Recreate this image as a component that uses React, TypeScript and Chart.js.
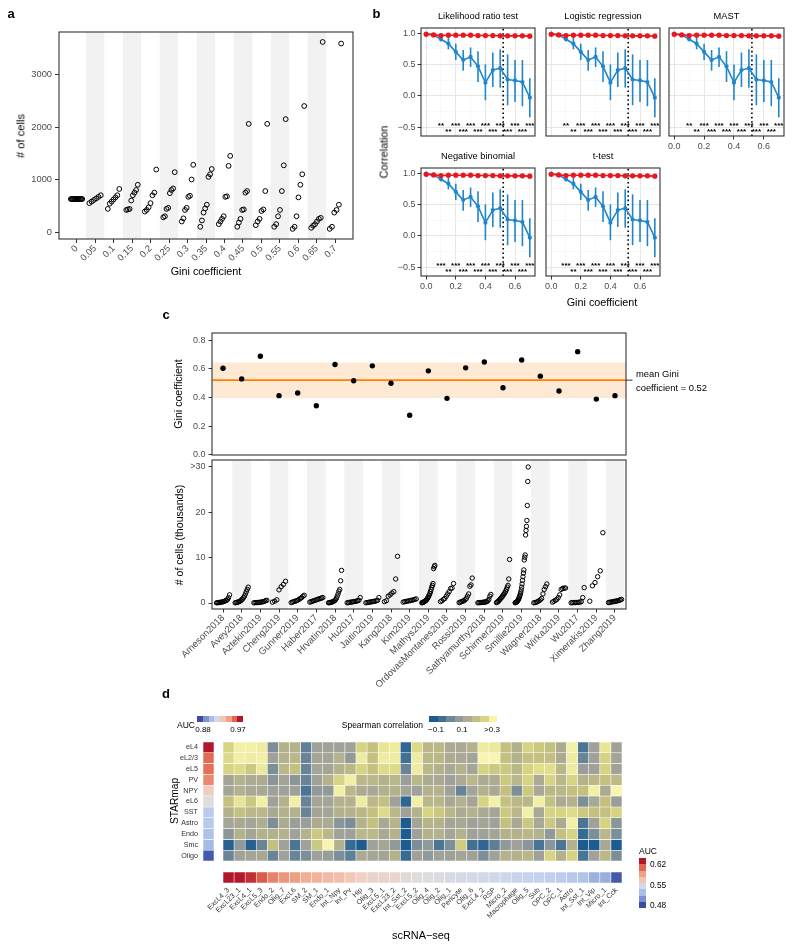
import React, { useEffect, useRef } from "react";
import { Chart, registerables } from "chart.js";

Chart.register(...registerables);

const PAGE_W = 800;
const PAGE_H = 947;
const FONT = "'Liberation Sans', Arial, Helvetica, sans-serif";
const TICK_TXT = "#4d4d4d";
const AXIS_LINE = "#333333";
const BAND = "#f2f2f2";
Chart.defaults.font.family = FONT;

// ---------------- Panel a data ----------------
const giniLevels = ["0", "0.05", "0.1", "0.15", "0.2", "0.25", "0.3", "0.35", "0.4", "0.45", "0.5", "0.55", "0.6", "0.65", "0.7"];
const cellsByGini: number[][] = [
  [628, 628, 628, 628, 628, 628, 628, 628, 628, 628, 628, 628, 628, 628],
  [550, 580, 610, 640, 670, 700],
  [440, 540, 580, 620, 660, 700, 820],
  [420, 430, 440, 600, 700, 750, 800, 900],
  [390, 420, 470, 550, 700, 750, 1190],
  [280, 300, 440, 460, 740, 800, 830, 1140],
  [200, 260, 420, 460, 670, 690, 1000, 1280],
  [100, 220, 370, 450, 520, 1050, 1100, 1200],
  [150, 200, 250, 300, 670, 680, 1260, 1450],
  [100, 180, 250, 420, 430, 750, 780, 2060],
  [130, 200, 250, 400, 430, 780, 2060],
  [100, 150, 300, 420, 780, 1270, 2150],
  [60, 100, 300, 660, 900, 1100, 2400],
  [80, 120, 150, 200, 250, 270, 3620],
  [60, 100, 370, 420, 520, 3590],
];

// ---------------- Panel b data ----------------
const corrGini = [0, 0.05, 0.1, 0.15, 0.2, 0.25, 0.3, 0.35, 0.4, 0.45, 0.5, 0.55, 0.6, 0.65, 0.7];
const redCorr = [0.98, 0.97, 0.96, 0.965, 0.965, 0.965, 0.965, 0.96, 0.96, 0.96, 0.955, 0.955, 0.955, 0.955, 0.95];
const blueCorr = [0.99, 0.97, 0.9, 0.83, 0.7, 0.57, 0.62, 0.47, 0.21, 0.41, 0.44, 0.26, 0.245, 0.22, -0.03];
const blueLow = [0.99, 0.97, 0.87, 0.74, 0.57, 0.4, 0.46, 0.22, -0.07, 0.14, 0.13, -0.15, -0.1, -0.165, -0.34];
const blueHigh = [0.99, 0.97, 0.93, 0.93, 0.83, 0.73, 0.77, 0.71, 0.5, 0.69, 0.74, 0.66, 0.57, 0.57, 0.28];
const meanGiniLine = 0.52;
const methods = ["Likelihood ratio test", "Logistic regression", "MAST", "Negative binomial", "t-test"];
const starX1 = [0.1, 0.2, 0.3, 0.4, 0.5, 0.6, 0.7];
const starX2 = [0.15, 0.25, 0.35, 0.45, 0.55, 0.65];
const starsRow1: string[][] = [
  ["**", "***", "***", "***", "***", "***", "***"],
  ["**", "***", "***", "***", "***", "***", "***"],
  ["**", "***", "***", "***", "***", "***", "***"],
  ["***", "***", "***", "***", "***", "***", "***"],
  ["***", "***", "***", "***", "***", "***", "***"],
];
const starsRow2: string[][] = [
  ["**", "***", "***", "***", "***", "***"],
  ["**", "***", "***", "***", "***", "***"],
  ["**", "***", "***", "***", "***", "***"],
  ["**", "***", "***", "***", "***", "***"],
  ["**", "***", "***", "***", "***", "***"],
];

// ---------------- Panel c data ----------------
const studies = ["Arneson2018", "Avey2018", "Aztekin2019", "Cheng2019", "Gunner2019", "Haber2017", "Hrvatin2018", "Hu2017", "Jaitin2019", "Kang2018", "Kim2019", "Mathys2019", "OrdovasMontanes2018", "Rossi2019", "Sathyamurthy2018", "Schirmer2019", "Smillie2019", "Wagner2018", "Wirka2019", "Wu2017", "Ximerakis2019", "Zhang2019"];
const studyGini = [0.603, 0.529, 0.687, 0.412, 0.43, 0.342, 0.629, 0.516, 0.62, 0.499, 0.275, 0.585, 0.393, 0.606, 0.647, 0.467, 0.661, 0.548, 0.444, 0.719, 0.388, 0.412];
const giniMean = 0.52;
const giniBandLow = 0.395;
const giniBandHigh = 0.643;
const cellCountsK: number[][] = [
  [0.05, 0.08, 0.1, 0.12, 0.15, 0.2, 0.25, 0.3, 0.4, 0.5, 0.6, 0.8, 1.2, 1.8],
  [0.05, 0.1, 0.15, 0.2, 0.3, 0.4, 0.5, 0.7, 0.9, 1.2, 1.5, 2.0, 2.5, 3.0, 3.5],
  [0.05, 0.08, 0.1, 0.1, 0.12, 0.15, 0.2, 0.25, 0.3, 0.4, 0.5, 0.6],
  [0.2, 0.4, 0.7, 2.9, 3.6, 4.1, 4.8],
  [0.1, 0.2, 0.3, 0.4, 0.5, 0.6, 0.8, 1.0, 1.2, 1.5, 1.7],
  [0.2, 0.3, 0.4, 0.5, 0.6, 0.7, 0.8, 0.9, 1.0, 1.1, 1.2],
  [0.05, 0.1, 0.1, 0.15, 0.2, 0.3, 0.4, 0.5, 0.7, 1.0, 1.5, 2.0, 2.6, 3.0, 4.9, 7.2],
  [0.05, 0.1, 0.15, 0.2, 0.25, 0.3, 0.35, 0.4, 0.5, 0.6, 1.2],
  [0.05, 0.1, 0.15, 0.2, 0.25, 0.3, 0.35, 0.4, 0.5, 0.6, 1.2],
  [0.3, 0.5, 1.5, 1.8, 2.2, 2.5, 5.3, 10.3],
  [0.2, 0.3, 0.35, 0.4, 0.5, 0.55, 0.6, 0.7, 0.8, 0.9],
  [0.05, 0.1, 0.15, 0.2, 0.3, 0.4, 0.5, 0.6, 0.8, 1.0, 1.2, 1.5, 1.8, 2.1, 2.5, 3.0, 3.5, 3.9, 4.3, 7.6, 8.0, 8.3],
  [0.3, 0.5, 0.8, 1.0, 1.5, 2.0, 2.5, 3.2, 3.3, 4.3],
  [0.1, 0.2, 0.3, 0.4, 0.5, 0.7, 1.0, 1.5, 2.0, 3.7, 4.0, 5.5],
  [0.05, 0.08, 0.1, 0.1, 0.12, 0.15, 0.2, 0.2, 0.25, 0.3, 0.5, 0.8, 1.5, 1.9],
  [0.1, 0.2, 0.3, 0.5, 0.7, 0.9, 1.1, 1.3, 1.5, 1.8, 2.0, 2.3, 2.6, 3.0, 3.5, 3.9, 5.3, 9.6],
  [0.05, 0.1, 0.15, 0.2, 0.3, 0.4, 0.5, 0.7, 0.9, 1.1, 1.4, 1.7, 2.0, 2.4, 2.9, 3.5, 4.2, 5.0, 5.8, 6.6, 7.3, 9.5, 10.1, 10.6, 15.0, 16.0, 16.9, 18.2, 21.5, 26.8, 30],
  [0.05, 0.1, 0.2, 0.3, 0.5, 0.7, 1.0, 2.0, 3.0, 3.6, 4.2],
  [0.2, 0.4, 0.6, 0.8, 1.2, 1.8, 3.0, 3.2, 3.3, 3.3],
  [0.05, 0.08, 0.1, 0.1, 0.12, 0.15, 0.2, 0.3, 1.2, 3.4],
  [0.4, 3.8, 4.5, 5.8, 7.1, 15.5],
  [0.1, 0.15, 0.2, 0.25, 0.3, 0.35, 0.4, 0.45, 0.5, 0.6, 0.7, 0.8],
];

// ---------------- Panel d data ----------------
const starmapTypes = ["eL4", "eL2/3", "eL5", "PV", "NPY", "eL6", "SST", "Astro", "Endo", "Smc", "Oligo"];
const starmapAUC = [0.97, 0.958, 0.957, 0.953, 0.937, 0.925, 0.909, 0.908, 0.905, 0.902, 0.882];
const scTypes = ["ExcL4_3", "ExcL23_1", "ExcL4_1", "ExcL5_3", "Endo_2", "Olig_7", "ExcL6", "SM_2", "SM_1", "Endo_1", "Int_Npy", "Int_Pv", "Hip", "Olig_3", "ExcL5_1", "ExcL23_2", "Int_Sst_2", "ExcL5_2", "Olig_4", "Olig_2", "Olig_1", "Pericyte", "Olig_6", "ExcL4_2", "RSP", "Micro_2", "Macrophage", "Olig_5", "Sub", "OPC_2", "OPC_1", "Astro", "Int_Sst_1", "Int_Vip", "Micro_1", "Int_Cck"];
const scAUC = [0.62, 0.62, 0.615, 0.605, 0.595, 0.59, 0.588, 0.583, 0.58, 0.577, 0.575, 0.571, 0.567, 0.563, 0.562, 0.561, 0.556, 0.551, 0.55, 0.547, 0.543, 0.542, 0.541, 0.54, 0.539, 0.535, 0.532, 0.531, 0.53, 0.529, 0.526, 0.523, 0.519, 0.51, 0.509, 0.483];
const spearman: number[][] = [
  [0.2, 0.28, 0.28, 0.27, 0.0, 0.1, 0.1, -0.03, 0.05, 0.05, 0.05, 0.05, 0.2, 0.15, 0.25, 0.27, -0.08, 0.22, 0.12, 0.12, 0.08, 0.07, 0.1, 0.27, 0.26, 0.15, 0.1, 0.2, 0.17, 0.15, 0.08, 0.28, -0.05, 0.05, 0.25, 0.05],
  [0.22, 0.28, 0.27, 0.28, 0.05, 0.1, 0.12, -0.02, 0.06, 0.06, 0.1, 0.03, 0.27, 0.15, 0.27, 0.27, -0.06, 0.27, 0.12, 0.12, 0.08, 0.07, 0.06, 0.3, 0.3, 0.15, 0.1, 0.15, 0.15, 0.15, 0.08, 0.27, -0.02, 0.05, 0.2, 0.06],
  [0.2, 0.22, 0.17, 0.26, 0.0, 0.12, 0.15, -0.02, 0.06, 0.06, 0.1, 0.12, 0.2, 0.15, 0.22, 0.22, -0.02, 0.27, 0.12, 0.1, 0.07, 0.1, 0.06, 0.2, 0.17, 0.17, 0.12, 0.2, 0.23, 0.23, 0.12, 0.27, 0.04, 0.05, 0.2, 0.05],
  [0.06, 0.1, 0.08, 0.08, 0.02, 0.06, 0.02, -0.02, 0.05, 0.1, 0.2, 0.28, 0.12, 0.12, 0.1, 0.12, 0.04, 0.12, 0.08, 0.07, 0.05, 0.08, 0.12, 0.08, 0.08, 0.17, 0.12, 0.2, 0.08, 0.2, 0.12, 0.2, 0.1, 0.12, 0.15, 0.13],
  [0.06, 0.1, 0.07, 0.07, 0.05, 0.05, 0.05, -0.05, 0.03, 0.03, 0.28, 0.12, 0.08, 0.07, 0.1, 0.1, 0.06, 0.05, 0.1, 0.1, 0.05, -0.02, 0.06, 0.1, 0.07, 0.15, 0.0, 0.17, 0.07, 0.12, 0.12, 0.15, 0.15, 0.28, 0.08, 0.3],
  [0.15, 0.25, 0.17, 0.28, 0.05, 0.1, 0.28, -0.02, 0.06, 0.06, 0.1, 0.1, 0.27, 0.12, 0.15, 0.05, -0.08, 0.28, 0.12, 0.12, 0.07, 0.1, 0.06, 0.2, 0.28, 0.15, 0.12, 0.12, 0.28, 0.15, 0.08, 0.1, 0.0, 0.07, 0.15, 0.04],
  [0.1, 0.15, 0.12, 0.12, 0.07, 0.1, 0.1, -0.02, 0.06, 0.06, 0.1, 0.1, 0.12, 0.15, 0.22, 0.12, 0.05, 0.1, 0.2, 0.17, 0.12, 0.08, 0.1, 0.07, 0.06, 0.17, 0.12, 0.28, 0.07, 0.2, 0.2, 0.22, 0.17, 0.15, 0.15, 0.2],
  [0.06, 0.07, 0.06, 0.09, 0.0, 0.08, 0.04, 0.04, 0.08, 0.08, 0.02, 0.0, 0.1, 0.15, 0.07, 0.11, -0.1, 0.06, 0.11, 0.1, 0.06, 0.07, 0.05, 0.06, 0.05, 0.15, 0.07, 0.17, 0.07, 0.17, 0.08, 0.28, -0.05, 0.05, 0.2, 0.02],
  [0.02, 0.1, 0.06, 0.1, 0.1, 0.1, 0.05, 0.1, 0.17, 0.12, 0.05, 0.05, 0.12, 0.12, 0.07, 0.1, -0.1, 0.05, 0.1, 0.1, 0.06, 0.1, 0.05, 0.05, 0.06, 0.1, 0.1, 0.12, 0.1, 0.03, 0.15, 0.2, -0.07, 0.0, 0.12, 0.0],
  [-0.09, 0.03, -0.09, -0.02, 0.15, 0.05, -0.05, 0.05, 0.17, 0.3, 0.1, -0.07, -0.1, 0.05, 0.06, 0.03, -0.1, 0.0, 0.03, -0.05, 0.0, 0.18, -0.06, -0.08, -0.03, 0.03, 0.05, 0.02, -0.05, 0.02, -0.05, 0.1, -0.1, -0.1, 0.07, -0.1],
  [-0.02, 0.05, 0.06, 0.07, -0.02, 0.05, -0.02, 0.0, 0.05, 0.04, 0.0, -0.03, 0.08, 0.06, 0.06, 0.1, -0.07, 0.05, 0.03, 0.05, 0.05, 0.06, 0.05, 0.0, 0.05, 0.1, 0.1, 0.12, 0.05, 0.2, 0.1, 0.2, -0.05, 0.05, 0.12, 0.0],
];

// ---------------- colour helpers ----------------
function hex(h: string) {
  return [parseInt(h.slice(1, 3), 16), parseInt(h.slice(3, 5), 16), parseInt(h.slice(5, 7), 16)];
}
function ramp(stops: string[], t: number) {
  const c = Math.max(0, Math.min(1, t)) * (stops.length - 1);
  const i = Math.min(stops.length - 2, Math.floor(c));
  const f = c - i;
  const a = hex(stops[i]);
  const b = hex(stops[i + 1]);
  return `rgb(${a.map((v, k) => Math.round(v + (b[k] - v) * f)).join(",")})`;
}
const SPEAR_STOPS = ["#1d5c91", "#4a7594", "#7c8e98", "#a0a29a", "#b4b18d", "#c4c080", "#d6d382", "#e8e696", "#f8f5b0"];
const spearColor = (v: number) => ramp(SPEAR_STOPS, (v + 0.1) / 0.4);
const DIV_STOPS = ["#3b4ca4", "#7c93d3", "#a8bee7", "#c9d5ee", "#dddddd", "#efd0c3", "#f2a88d", "#e26651", "#b2182b"];
const divColor = (v: number, lo: number, hi: number) => ramp(DIV_STOPS, (v - lo) / (hi - lo));

const SPEAR_LEGEND = ["#1d5c91", "#3d6f95", "#6d8797", "#949a99", "#aeac93", "#c2be85", "#d8d582", "#f6f3ad"];
const AUC_LEGEND = ["#3b4ca4", "#7c93d3", "#a8bee7", "#cfdaf0", "#f2c5b3", "#f0a085", "#e26651", "#b2182b"];

// ---------------- layout helpers ----------------
type Box = { l: number; t: number; r: number; b: number };
const fitW = (w: number) => (s: any) => {
  s.width = w;
};
const fitH = (h: number) => (s: any) => {
  s.height = h;
};
// The chart area lands exactly on `box`; the y axis takes yW px left of it, the x axis xH px below it.
const baseOptions = (box: Box, yW = 0, xH = 0) => ({
  animation: false,
  responsive: false,
  events: [],
  layout: { padding: { left: box.l - yW, top: box.t, right: PAGE_W - box.r, bottom: PAGE_H - box.b - xH } },
  plugins: { legend: { display: false }, tooltip: { enabled: false }, title: { display: false } },
});

const framePlugin = (color: string, lw: number) => ({
  id: "frame",
  afterDraw(chart: any) {
    const { ctx, chartArea: a } = chart;
    ctx.save();
    ctx.strokeStyle = color;
    ctx.lineWidth = lw;
    ctx.strokeRect(a.left, a.top, a.right - a.left, a.bottom - a.top);
    ctx.restore();
  },
});

const bandsPlugin = (n: number) => ({
  id: "bands",
  beforeDatasetsDraw(chart: any) {
    const { ctx, chartArea: a, scales } = chart;
    ctx.save();
    ctx.fillStyle = BAND;
    for (let i = 1; i < n; i += 2) {
      const x0 = scales.x.getPixelForValue(i - 0.5);
      const x1 = scales.x.getPixelForValue(i + 0.5);
      ctx.fillRect(x0, a.top, x1 - x0, a.bottom - a.top);
    }
    ctx.restore();
  },
});

function spreadPoints(groups: number[][], width: number) {
  const pts: { x: number; y: number }[] = [];
  groups.forEach((vals, i) => {
    const sorted = [...vals].sort((p, q) => p - q);
    const n = sorted.length;
    sorted.forEach((v, k) => pts.push({ x: i + (n > 1 ? (k / (n - 1) - 0.5) * width : 0), y: v }));
  });
  return pts;
}

const tickFont = (size: number) => ({ family: FONT, size });

// ---------------- chart configs ----------------
const boxA: Box = { l: 59, t: 32, r: 353, b: 239 };
function configA(): any {
  return {
    type: "scatter",
    data: {
      datasets: [
        {
          data: spreadPoints(cellsByGini, 0.62),
          pointRadius: 2.4,
          pointBorderWidth: 1,
          pointBorderColor: "#000",
          pointBackgroundColor: "rgba(0,0,0,0)",
        },
      ],
    },
    options: {
      ...baseOptions(boxA, 55, 40),
      scales: {
        x: {
          type: "linear",
          min: -0.95,
          max: 14.95,
          afterFit: fitH(40),
          afterBuildTicks: (s: any) => {
            s.ticks = giniLevels.map((_, i) => ({ value: i }));
          },
          ticks: { autoSkip: false, minRotation: 45, maxRotation: 45, padding: 0, color: TICK_TXT, font: tickFont(9.3), callback: (v: number) => giniLevels[v] },
          grid: { drawOnChartArea: false, tickLength: 4, color: AXIS_LINE },
          border: { display: false },
        },
        y: {
          min: -133,
          max: 3810,
          afterFit: fitW(55),
          afterBuildTicks: (s: any) => {
            s.ticks = [0, 1000, 2000, 3000].map((v) => ({ value: v }));
          },
          ticks: { padding: 3, color: TICK_TXT, font: tickFont(9.3), callback: (v: number) => String(v) },
          grid: { drawOnChartArea: false, tickLength: 4, color: AXIS_LINE },
          border: { display: false },
        },
      },
    },
    plugins: [bandsPlugin(giniLevels.length), framePlugin(AXIS_LINE, 1.1)],
  };
}

const RED = "#e8161e";
const BLUE = "#1f86cc";
const facetBoxes: Box[] = [
  { l: 421, t: 28, r: 535, b: 136 },
  { l: 546, t: 28, r: 660, b: 136 },
  { l: 669, t: 28, r: 784, b: 136 },
  { l: 421, t: 168, r: 535, b: 276 },
  { l: 546, t: 168, r: 660, b: 276 },
];
const facetShowX = [false, false, true, true, true];
const facetShowY = [true, false, false, true, false];
const YMIN_B = -0.64;
const YMAX_B = 1.08;

function configB(k: number): any {
  const box = facetBoxes[k];
  const majorX = (v: number) => Math.round(v * 10) % 2 === 0;
  const majorY = (v: number) => Math.round(v * 4) % 2 === 0;
  const errorBars = {
    id: "errbars",
    beforeDatasetsDraw(chart: any) {
      const { ctx, scales } = chart;
      ctx.save();
      ctx.strokeStyle = BLUE;
      ctx.lineWidth = 1.6;
      corrGini.forEach((g, i) => {
        const x = scales.x.getPixelForValue(g);
        ctx.beginPath();
        ctx.moveTo(x, scales.y.getPixelForValue(blueLow[i]));
        ctx.lineTo(x, scales.y.getPixelForValue(blueHigh[i]));
        ctx.stroke();
      });
      ctx.restore();
    },
  };
  const stars = {
    id: "stars",
    afterDatasetsDraw(chart: any) {
      const { ctx, scales } = chart;
      ctx.save();
      ctx.fillStyle = "#000";
      ctx.font = `bold 8px ${FONT}`;
      ctx.textAlign = "center";
      ctx.textBaseline = "middle";
      starX1.forEach((g, i) => ctx.fillText(starsRow1[k][i], scales.x.getPixelForValue(g), scales.y.getPixelForValue(-0.44) + 2.5));
      starX2.forEach((g, i) => ctx.fillText(starsRow2[k][i], scales.x.getPixelForValue(g), scales.y.getPixelForValue(-0.54) + 2.5));
      ctx.restore();
    },
  };
  return {
    type: "scatter",
    data: {
      datasets: [
        {
          data: corrGini.map((x, i) => ({ x, y: redCorr[i] })),
          showLine: true,
          borderColor: RED,
          borderWidth: 1.6,
          pointRadius: 2.6,
          pointBackgroundColor: RED,
          pointBorderWidth: 0,
        },
        {
          data: corrGini.map((x, i) => ({ x, y: blueCorr[i] })),
          showLine: true,
          borderColor: BLUE,
          borderWidth: 1.6,
          pointRadius: 2.1,
          pointBackgroundColor: BLUE,
          pointBorderWidth: 0,
        },
        {
          data: [
            { x: meanGiniLine, y: YMIN_B },
            { x: meanGiniLine, y: YMAX_B },
          ],
          showLine: true,
          borderColor: "#000",
          borderWidth: 1.6,
          borderDash: [1.6, 2.8],
          pointRadius: 0,
        },
      ],
    },
    options: {
      ...baseOptions(box, 40, 20),
      scales: {
        x: {
          type: "linear",
          min: -0.035,
          max: 0.735,
          afterFit: fitH(20),
          afterBuildTicks: (s: any) => {
            s.ticks = [0, 0.1, 0.2, 0.3, 0.4, 0.5, 0.6, 0.7].map((v) => ({ value: v }));
          },
          ticks: {
            padding: 2,
            color: TICK_TXT,
            font: tickFont(9),
            maxRotation: 0,
            autoSkip: false,
            callback: (v: number) => (facetShowX[k] && majorX(v) ? v.toFixed(1) : ""),
          },
          grid: {
            color: (c: any) => (majorX(c.tick.value) ? "#e6e6e6" : "#f3f3f3"),
            lineWidth: (c: any) => (majorX(c.tick.value) ? 1 : 0.6),
            tickColor: (c: any) => (facetShowX[k] && majorX(c.tick.value) ? AXIS_LINE : "rgba(0,0,0,0)"),
            tickLength: 3.5,
          },
          border: { display: false },
        },
        y: {
          min: YMIN_B,
          max: YMAX_B,
          afterFit: fitW(40),
          afterBuildTicks: (s: any) => {
            s.ticks = [-0.5, -0.25, 0, 0.25, 0.5, 0.75, 1].map((v) => ({ value: v }));
          },
          ticks: {
            padding: 2,
            color: TICK_TXT,
            font: tickFont(9),
            autoSkip: false,
            callback: (v: number) => (facetShowY[k] && majorY(v) ? (v < 0 ? "\u2212" + Math.abs(v).toFixed(1) : v.toFixed(1)) : ""),
          },
          grid: {
            color: (c: any) => (majorY(c.tick.value) ? "#e6e6e6" : "#f3f3f3"),
            lineWidth: (c: any) => (majorY(c.tick.value) ? 1 : 0.6),
            tickColor: (c: any) => (facetShowY[k] && majorY(c.tick.value) ? AXIS_LINE : "rgba(0,0,0,0)"),
            tickLength: 3.5,
          },
          border: { display: false },
        },
      },
    },
    plugins: [errorBars, stars, framePlugin(AXIS_LINE, 1.1)],
  };
}

const boxC1: Box = { l: 212, t: 333, r: 626, b: 455 };
function configC1(): any {
  const meanBand = {
    id: "meanband",
    beforeDatasetsDraw(chart: any) {
      const { ctx, chartArea: a, scales } = chart;
      ctx.save();
      ctx.fillStyle = "#fde9d4";
      const y0 = scales.y.getPixelForValue(giniBandHigh);
      const y1 = scales.y.getPixelForValue(giniBandLow);
      ctx.fillRect(a.left, y0, a.right - a.left, y1 - y0);
      const ym = scales.y.getPixelForValue(giniMean);
      ctx.strokeStyle = "#ff7f00";
      ctx.lineWidth = 1.6;
      ctx.beginPath();
      ctx.moveTo(a.left, ym);
      ctx.lineTo(a.right, ym);
      ctx.stroke();
      ctx.restore();
    },
    afterDraw(chart: any) {
      const { ctx, chartArea: a, scales } = chart;
      const ym = scales.y.getPixelForValue(giniMean);
      ctx.save();
      ctx.strokeStyle = "#333";
      ctx.lineWidth = 1;
      ctx.beginPath();
      ctx.moveTo(a.right, ym);
      ctx.lineTo(a.right + 6.5, ym);
      ctx.stroke();
      ctx.restore();
    },
  };
  return {
    type: "scatter",
    data: {
      datasets: [
        {
          data: studyGini.map((g, i) => ({ x: i, y: g })),
          pointRadius: 2.7,
          pointBackgroundColor: "#000",
          pointBorderWidth: 0,
        },
      ],
    },
    options: {
      ...baseOptions(boxC1, 40, 0),
      scales: {
        x: { type: "linear", display: false, min: -0.59, max: 21.59 },
        y: {
          min: -0.002,
          max: 0.849,
          afterFit: fitW(40),
          afterBuildTicks: (s: any) => {
            s.ticks = [0, 0.2, 0.4, 0.6, 0.8].map((v) => ({ value: v }));
          },
          ticks: { padding: 3, color: TICK_TXT, font: tickFont(9), autoSkip: false, callback: (v: number) => v.toFixed(1) },
          grid: { drawOnChartArea: false, tickLength: 3.5, color: AXIS_LINE },
          border: { display: false },
        },
      },
    },
    plugins: [meanBand, framePlugin(AXIS_LINE, 1.1)],
  };
}

const boxC2: Box = { l: 212, t: 460, r: 626, b: 609 };
const cellTickLabels = ["0", "10", "20", ">30"];
function configC2(): any {
  return {
    type: "scatter",
    data: {
      datasets: [
        {
          data: spreadPoints(cellCountsK, 0.7),
          pointRadius: 2.2,
          pointBorderWidth: 1,
          pointBorderColor: "#000",
          pointBackgroundColor: "rgba(0,0,0,0)",
        },
      ],
    },
    options: {
      ...baseOptions(boxC2, 40, 85),
      scales: {
        x: {
          type: "linear",
          min: -0.59,
          max: 21.59,
          afterFit: fitH(85),
          afterBuildTicks: (s: any) => {
            s.ticks = studies.map((_, i) => ({ value: i }));
          },
          ticks: { autoSkip: false, minRotation: 45, maxRotation: 45, padding: 0, color: TICK_TXT, font: tickFont(9.5), callback: (v: number) => studies[v] },
          grid: { drawOnChartArea: false, tickLength: 3.5, color: AXIS_LINE },
          border: { display: false },
        },
        y: {
          min: -1.32,
          max: 31.54,
          afterFit: fitW(40),
          afterBuildTicks: (s: any) => {
            s.ticks = [0, 10, 20, 30].map((v) => ({ value: v }));
          },
          ticks: { padding: 3, color: TICK_TXT, font: tickFont(9), autoSkip: false, callback: (v: number, i: number) => cellTickLabels[i] },
          grid: { drawOnChartArea: false, tickLength: 3.5, color: AXIS_LINE },
          border: { display: false },
        },
      },
    },
    plugins: [bandsPlugin(studies.length), framePlugin(AXIS_LINE, 1.1)],
  };
}

const boxHeat: Box = { l: 223, t: 742, r: 622, b: 861 };
const CELL_BORDER = "rgba(255,255,255,0.55)";
function configHeat(): any {
  return {
    type: "bar",
    data: {
      labels: scTypes,
      datasets: starmapTypes.map((_, ri) => ({
        data: scTypes.map(() => [ri, ri + 1]),
        backgroundColor: spearman[ri].map(spearColor),
        borderColor: CELL_BORDER,
        borderWidth: 0.6,
        borderSkipped: false,
        grouped: false,
        barPercentage: 1,
        categoryPercentage: 1,
      })),
    },
    options: {
      ...baseOptions(boxHeat),
      scales: {
        x: { type: "category", display: false },
        y: { type: "linear", display: false, min: 0, max: starmapTypes.length, reverse: true },
      },
    },
  };
}

const boxLeftAUC: Box = { l: 203, t: 742, r: 214, b: 861 };
function configLeftAUC(): any {
  return {
    type: "bar",
    data: {
      labels: starmapTypes,
      datasets: [
        {
          data: starmapTypes.map(() => 1),
          backgroundColor: starmapAUC.map((v) => divColor(v, 0.88, 0.97)),
          borderColor: CELL_BORDER,
          borderWidth: 0.6,
          borderSkipped: false,
          barPercentage: 1,
          categoryPercentage: 1,
        },
      ],
    },
    options: {
      ...baseOptions(boxLeftAUC, 40, 0),
      indexAxis: "y",
      scales: {
        x: { type: "linear", display: false, min: 0, max: 1 },
        y: {
          type: "category",
          afterFit: fitW(40),
          ticks: { padding: 5, color: "#333", font: tickFont(7.2), autoSkip: false },
          grid: { display: false, drawTicks: false },
          border: { display: false },
        },
      },
    },
  };
}

const boxBottomAUC: Box = { l: 223, t: 872, r: 622, b: 883 };
function configBottomAUC(): any {
  return {
    type: "bar",
    data: {
      labels: scTypes,
      datasets: [
        {
          data: scTypes.map(() => 1),
          backgroundColor: scAUC.map((v) => divColor(v, 0.48, 0.62)),
          borderColor: CELL_BORDER,
          borderWidth: 0.6,
          borderSkipped: false,
          barPercentage: 1,
          categoryPercentage: 1,
        },
      ],
    },
    options: {
      ...baseOptions(boxBottomAUC, 0, 58),
      scales: {
        x: {
          type: "category",
          afterFit: fitH(58),
          ticks: { autoSkip: false, minRotation: 45, maxRotation: 45, padding: 3, color: "#333", font: tickFont(7.2) },
          grid: { display: false, drawTicks: false },
          border: { display: false },
        },
        y: { type: "linear", display: false, min: 0, max: 1 },
      },
    },
  };
}

const chartFactories: (() => any)[] = [
  configA,
  () => configB(0),
  () => configB(1),
  () => configB(2),
  () => configB(3),
  () => configB(4),
  configC1,
  configC2,
  configHeat,
  configLeftAUC,
  configBottomAUC,
];

// ---------------- HTML text helpers ----------------
type TxtProps = {
  x: number;
  y: number;
  size: number;
  children: React.ReactNode;
  anchor?: "start" | "middle" | "end";
  bold?: boolean;
  rotate?: number;
  color?: string;
};
function Txt({ x, y, size, children, anchor = "middle", bold = false, rotate = 0, color = "#000" }: TxtProps) {
  const tx = anchor === "middle" ? "-50%" : anchor === "end" ? "-100%" : "0%";
  return (
    <div
      style={{
        position: "absolute",
        left: x,
        top: y,
        fontFamily: FONT,
        fontSize: size,
        lineHeight: 1,
        whiteSpace: "nowrap",
        color,
        fontWeight: bold ? 700 : 400,
        transform: `translate(${tx}, -50%)${rotate ? ` rotate(${rotate}deg)` : ""}`,
      }}
    >
      {children}
    </div>
  );
}

function Strip({ x, y, w, h, colors, vertical = false }: { x: number; y: number; w: number; h: number; colors: string[]; vertical?: boolean }) {
  const n = colors.length;
  return (
    <>
      {colors.map((c, i) => (
        <div
          key={i}
          style={{
            position: "absolute",
            left: vertical ? x : x + (w / n) * i,
            top: vertical ? y + (h / n) * i : y,
            width: vertical ? w : w / n + 0.3,
            height: vertical ? h / n + 0.3 : h,
            background: c,
          }}
        />
      ))}
    </>
  );
}

export default function App() {
  const refs = useRef<(HTMLCanvasElement | null)[]>([]);
  useEffect(() => {
    const charts = chartFactories.map((f, i) => new Chart(refs.current[i] as HTMLCanvasElement, f()));
    return () => charts.forEach((c) => c.destroy());
  }, []);

  return (
    <div style={{ position: "absolute", left: 0, top: 0, width: PAGE_W, height: PAGE_H, background: "#fff", overflow: "hidden" }}>
      {chartFactories.map((_, i) => (
        <canvas
          key={i}
          ref={(el) => {
            refs.current[i] = el;
          }}
          width={PAGE_W}
          height={PAGE_H}
          style={{ position: "absolute", left: 0, top: 0, width: PAGE_W, height: PAGE_H }}
        />
      ))}

      {/* panel letters */}
      <Txt x={11} y={12.5} size={13} bold>a</Txt>
      <Txt x={376.5} y={12.5} size={13} bold>b</Txt>
      <Txt x={166} y={313.5} size={13} bold>c</Txt>
      <Txt x={166} y={693} size={13} bold>d</Txt>

      {/* panel a */}
      <Txt x={21} y={136} size={11.2} rotate={-90}>
        # of cells
      </Txt>
      <Txt x={206} y={271} size={10.8}>
        Gini coefficient
      </Txt>

      {/* panel b */}
      {methods.map((m, k) => (
        <Txt key={m} x={(facetBoxes[k].l + facetBoxes[k].r) / 2} y={facetBoxes[k].t - 11} size={9.3}>
          {m}
        </Txt>
      ))}
      <Txt x={384} y={152} size={10.8} rotate={-90}>
        Correlation
      </Txt>
      <Txt x={602} y={302} size={10.8}>
        Gini coefficient
      </Txt>

      {/* panel c */}
      <Txt x={178} y={394} size={10.6} rotate={-90}>
        Gini coefficient
      </Txt>
      <Txt x={179} y={535} size={10.6} rotate={-90}>
        # of cells (thousands)
      </Txt>
      <Txt x={636} y={374} size={9.4} anchor="start">
        mean Gini
      </Txt>
      <Txt x={636} y={388} size={9.4} anchor="start">
        coefficient = 0.52
      </Txt>

      {/* panel d legends */}
      <Txt x={195} y={724.5} size={8.5} anchor="end">
        AUC
      </Txt>
      <Strip x={197} y={716} w={46} h={5.5} colors={AUC_LEGEND} />
      <Txt x={203} y={729.5} size={8}>
        0.88
      </Txt>
      <Txt x={238} y={729.5} size={8}>
        0.97
      </Txt>
      <Txt x={423} y={724.5} size={8.5} anchor="end">
        Spearman correlation
      </Txt>
      <Strip x={429} y={716} w={68} h={5.5} colors={SPEAR_LEGEND} />
      <Txt x={436} y={729.5} size={8}>
        {"\u22120.1"}
      </Txt>
      <Txt x={462} y={729.5} size={8}>
        0.1
      </Txt>
      <Txt x={492} y={729.5} size={8}>
        {">0.3"}
      </Txt>

      <Txt x={175} y={801} size={10.2} rotate={-90}>
        STARmap
      </Txt>
      <Txt x={421} y={935} size={10.9}>
        {"scRNA\u2212seq"}
      </Txt>

      <Txt x={639} y={851} size={8.5} anchor="start">
        AUC
      </Txt>
      <Strip x={639} y={858} w={7} h={50} colors={[...AUC_LEGEND].reverse()} vertical />
      <Txt x={650} y={864} size={8.3} anchor="start">
        0.62
      </Txt>
      <Txt x={650} y={885} size={8.3} anchor="start">
        0.55
      </Txt>
      <Txt x={650} y={905} size={8.3} anchor="start">
        0.48
      </Txt>
    </div>
  );
}
